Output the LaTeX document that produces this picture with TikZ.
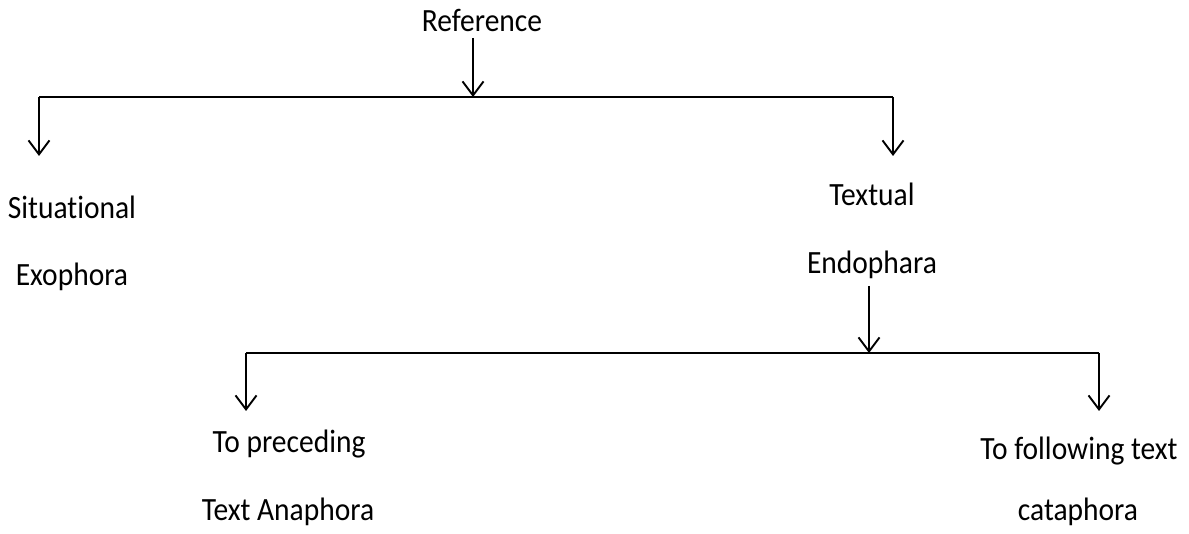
\documentclass[tikz,border=0pt]{standalone}
\usepackage{fontspec}
\setmainfont[Ligatures=NoCommon]{Carlito}
\usetikzlibrary{arrows.meta}
\newcommand{\tallt}[1]{\scalebox{1}[1.1]{#1}}
\begin{document}
\begin{tikzpicture}[x=1pt,y=-1pt,
  lbl/.style={anchor=base,inner sep=0pt,font=\fontsize{29.5}{34}\selectfont},
  conn/.style={line width=1.9pt,line cap=butt,line join=miter},
  arr/.style={conn,-{Straight Barb[length=14pt,width=21pt,line width=1.9pt]}}]
\useasboundingbox (0,0) rectangle (1189,534);
% texts
\node[lbl] (ref)  at (482,32)  {\tallt{Reference}};
\node[lbl] (sit)  at (72,219)  {\tallt{Situational}};
\node[lbl] (exo)  at (72,286)  {\tallt{Exophora}};
\node[lbl] (tex)  at (872,206) {\tallt{Textual}};
\node[lbl] (endo) at (872,274) {\tallt{Endophara}};
\node[lbl] (pre)  at (289,453) {\tallt{To preceding}};
\node[lbl] (ana)  at (288,520) {\tallt{Text Anaphora}};
\node[lbl] (fol)  at (1079,460) {\tallt{To following text}};
\node[lbl] (cat)  at (1078,520) {\tallt{cataphora}};
% junctions
\coordinate (j1) at (473,97);
\coordinate (l1) at (39,97);
\coordinate (r1) at (893,97);
\coordinate (t1) at (39,156);
\coordinate (t2) at (893,156);
\coordinate (j2) at (869,353);
\coordinate (l2) at (246,353);
\coordinate (r2) at (1099,353);
\coordinate (t3) at (246,411);
\coordinate (t4) at (1099,411);
% connectors
\draw[arr] (j1 |- 0,38) -- (j1);
\draw[conn] (l1) -- (r1);
\draw[arr] (l1) -- (t1);
\draw[arr] (r1) -- (t2);
\draw[arr] (j2 |- 0,286) -- (j2);
\draw[conn] (l2) -- (r2);
\draw[arr] (l2) -- (t3);
\draw[arr] (r2) -- (t4);
\end{tikzpicture}
\end{document}
